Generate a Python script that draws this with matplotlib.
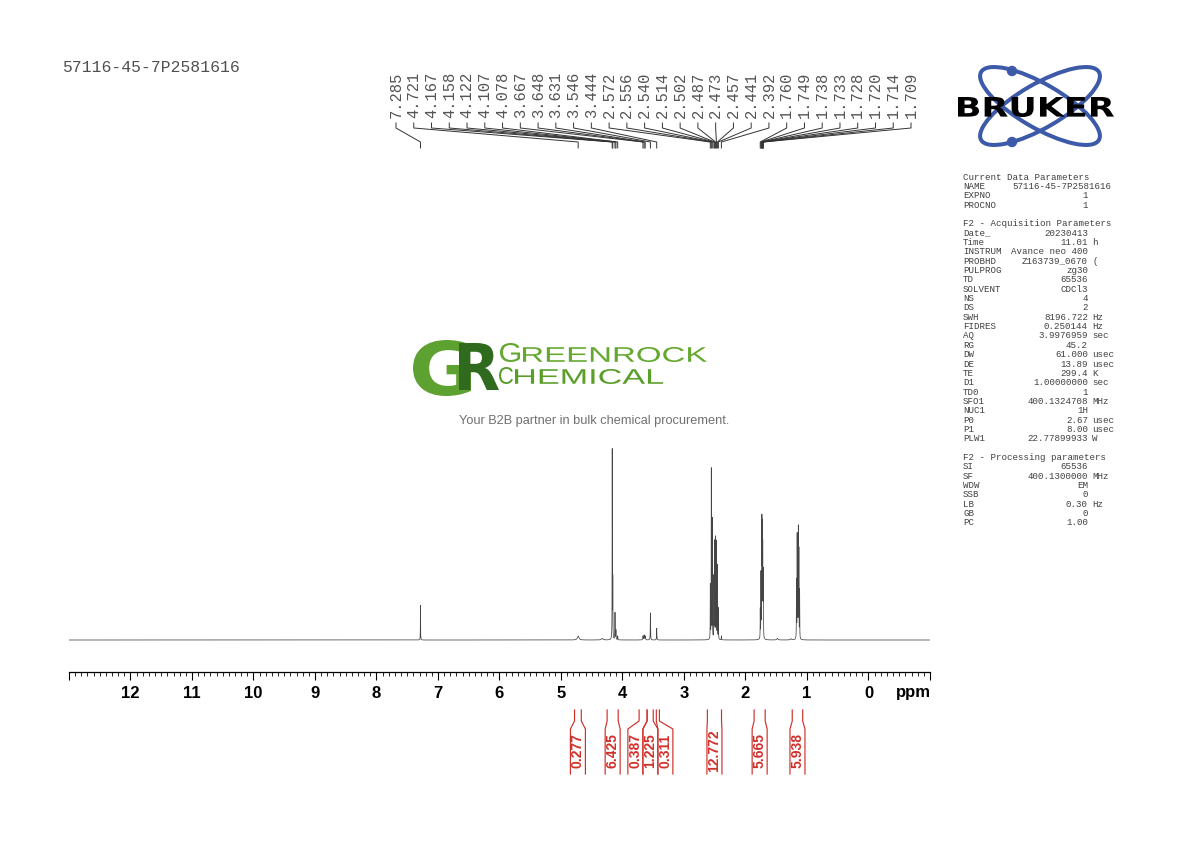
import numpy as np
import matplotlib
matplotlib.use('Agg')
import matplotlib.pyplot as plt
from matplotlib.patches import Ellipse, PathPatch, Circle
from matplotlib.textpath import TextPath
from matplotlib.font_manager import FontProperties
from matplotlib.transforms import Affine2D
from matplotlib.ticker import FixedLocator, MultipleLocator, FuncFormatter

W, H = 1190, 842

# ---------------- data ----------------
title = "57116-45-7P2581616"

peak_ppm = [7.285, 4.721, 4.330, 4.167, 4.158, 4.122, 4.107, 4.078,
            3.667, 3.648, 3.631, 3.546, 3.444,
            2.572, 2.556, 2.540, 2.514, 2.502, 2.487, 2.473, 2.457, 2.441, 2.392,
            1.760, 1.749, 1.738, 1.733, 1.728, 1.720, 1.714, 1.709,
            1.480, 1.260,
            1.171, 1.160, 1.152, 1.141, 1.132, 1.120]
peak_height = [0.18, 0.02, 0.008, 0.98, 0.30, 0.14, 0.05, 0.02,
               0.02, 0.025, 0.02, 0.14, 0.06,
               0.28, 0.88, 0.62, 0.32, 0.50, 0.52, 0.50, 0.38, 0.16, 0.02,
               0.15, 0.33, 0.48, 0.52, 0.52, 0.45, 0.30, 0.20,
               0.008, 0.006,
               0.30, 0.52, 0.45, 0.56, 0.45, 0.25]
peak_hwhm = [0.0018, 0.015, 0.015, 0.0018, 0.0018, 0.0025, 0.0025, 0.0025,
             0.004, 0.004, 0.004, 0.0025, 0.0025,
             0.0018, 0.0018, 0.0018, 0.0018, 0.0018, 0.0018, 0.0018, 0.0018, 0.0018, 0.0018,
             0.0018, 0.0018, 0.0018, 0.0018, 0.0018, 0.0018, 0.0018, 0.0018,
             0.01, 0.01,
             0.0018, 0.0018, 0.0018, 0.0018, 0.0018, 0.0018]

label_values = [7.285, 4.721, 4.167, 4.158, 4.122, 4.107, 4.078, 3.667, 3.648,
                3.631, 3.546, 3.444, 2.572, 2.556, 2.540, 2.514, 2.502, 2.487,
                2.473, 2.457, 2.441, 2.392, 1.760, 1.749, 1.738, 1.733, 1.728,
                1.720, 1.714, 1.709]

int_start = [4.78, 4.25, 3.73, 3.60, 3.45, 2.62, 1.86, 1.24]
int_end = [4.67, 4.07, 3.60, 3.50, 3.40, 2.39, 1.68, 1.07]
int_values = ["0.277", "6.425", "0.387", "1.225", "0.311", "12.772", "5.665", "5.938"]

tick_values = list(range(0, 13))

params = [
    ("Current Data Parameters", None, None),
    ("NAME", "57116-45-7P2581616", "*"),
    ("EXPNO", "1", ""),
    ("PROCNO", "1", ""),
    (None, None, None),
    ("F2 - Acquisition Parameters", None, None),
    ("Date_", "20230413", ""),
    ("Time", "11.01", "h"),
    ("INSTRUM", "Avance neo 400", ""),
    ("PROBHD", "Z163739_0670", "("),
    ("PULPROG", "zg30", ""),
    ("TD", "65536", ""),
    ("SOLVENT", "CDCl3", ""),
    ("NS", "4", ""),
    ("DS", "2", ""),
    ("SWH", "8196.722", "Hz"),
    ("FIDRES", "0.250144", "Hz"),
    ("AQ", "3.9976959", "sec"),
    ("RG", "45.2", ""),
    ("DW", "61.000", "usec"),
    ("DE", "13.89", "usec"),
    ("TE", "299.4", "K"),
    ("D1", "1.00000000", "sec"),
    ("TD0", "1", ""),
    ("SFO1", "400.1324708", "MHz"),
    ("NUC1", "1H", ""),
    ("P0", "2.67", "usec"),
    ("P1", "8.00", "usec"),
    ("PLW1", "22.77899933", "W"),
    (None, None, None),
    ("F2 - Processing parameters", None, None),
    ("SI", "65536", ""),
    ("SF", "400.1300000", "MHz"),
    ("WDW", "EM", ""),
    ("SSB", "0", ""),
    ("LB", "0.30", "Hz"),
    ("GB", "0", ""),
    ("PC", "1.00", ""),
]

# ---------------- figure ----------------
fig = plt.figure(figsize=(W / 100, H / 100), dpi=100)
fig.patch.set_facecolor('white')

# full-figure overlay in pixel coordinates (y down)
axf = fig.add_axes([0, 0, 1, 1])
axf.set_xlim(0, W)
axf.set_ylim(H, 0)
axf.axis('off')

# main spectrum axes
PXL, PXR, AXB, AXT = 69, 930, 672, 440
ax = fig.add_axes([PXL / W, (H - AXB) / H, (PXR - PXL) / W, (AXB - AXT) / H])
ax.patch.set_alpha(0)
ppm = np.linspace(13, -1, 56001)
spec = np.zeros_like(ppm)
for p, h, w in zip(peak_ppm, peak_height, peak_hwhm):
    spec += h / (1.0 + ((ppm - p) / w) ** 2)
ax.plot(ppm, spec, color='#454545', lw=0.55)
ax.set_xlim(13, -1)
ax.set_ylim(-32 / 193, 200 / 193)
for s in ['top', 'left', 'right']:
    ax.spines[s].set_visible(False)
ax.spines['bottom'].set_linewidth(0.9)
ax.yaxis.set_visible(False)
ax.xaxis.set_major_locator(FixedLocator(list(range(-1, 14))))
ax.xaxis.set_minor_locator(MultipleLocator(0.1))
ax.xaxis.set_major_formatter(
    FuncFormatter(lambda v, pos: f"{int(round(v))}" if int(round(v)) in tick_values else ""))
ax.tick_params(axis='x', which='major', length=5.8, width=0.8, direction='out', pad=4.2,
               labelsize=12)
ax.tick_params(axis='x', which='minor', length=2.9, width=0.6, direction='out')
for lab in ax.get_xticklabels():
    lab.set_fontweight('bold')
    lab.set_family('Liberation Sans')
axf.text(896, 693, "ppm", ha='left', va='center', family='Liberation Sans',
         fontweight='bold', fontsize=12, color='black')

# overlay sharing the ppm scale horizontally, pixel y vertically
axo = fig.add_axes([PXL / W, 0, (PXR - PXL) / W, 1])
axo.set_xlim(13, -1)
axo.set_ylim(H, 0)
axo.axis('off')

ppx = (PXR - PXL) / 14.0  # px per ppm
def px2ppm(x):
    return 13 - (x - PXL) / ppx

# peak labels
label_x = np.linspace(px2ppm(396), px2ppm(911), len(label_values))
for xl, v in zip(label_x, label_values):
    axo.plot([xl, xl, v, v], [123, 128, 142, 148], color='#333333', lw=0.7,
             clip_on=False)
    axo.text(xl, 118, f"{v:.3f}", rotation=90, ha='center', va='bottom',
             family='Liberation Mono', fontsize=11.2, color='#555555', clip_on=False)

# integrals
bw = 15.0 / ppx
mids = [(a + b) / 2 for a, b in zip(int_start, int_end)]
clusters = [[i] for i in range(len(mids))]
def centers_of(cl):
    m = np.mean([mids[i] for i in cl])
    n = len(cl)
    return [m + bw * ((n - 1) / 2 - k) for k in range(n)]
changed = True
while changed:
    changed = False
    for j in range(len(clusters) - 1):
        c1 = centers_of(clusters[j])
        c2 = centers_of(clusters[j + 1])
        if c1[-1] - c2[0] < bw:
            clusters[j] = clusters[j] + clusters[j + 1]
            del clusters[j + 1]
            changed = True
            break
lab_c = [0.0] * len(mids)
for cl in clusters:
    for i, c in zip(cl, centers_of(cl)):
        lab_c[i] = c

red = '#d0302a'
for s, e, c, val in zip(int_start, int_end, lab_c, int_values):
    axo.plot([s, s, c + bw / 2, c + bw / 2], [710, 721, 729, 774], color=red, lw=0.85,
             clip_on=False)
    axo.plot([e, e, c - bw / 2, c - bw / 2], [710, 721, 729, 774], color=red, lw=0.85,
             clip_on=False)
    axo.text(c, 751, val, rotation=90, ha='center', va='center', family='Liberation Sans',
             fontsize=10, fontweight='bold', color=red, clip_on=False)

# title
axf.text(62, 68, title, ha='left', va='center', family='Liberation Mono', fontsize=11.8,
         color='#505050')

# parameters block
pc = '#404040'
y = 177
for key, val, unit in params:
    if key is not None:
        axf.text(963, y, key, ha='left', va='center', family='Liberation Mono',
                 fontsize=6.6, color=pc)
        if val is not None:
            if unit == "*":
                axf.text(1111, y, val, ha='right', va='center', family='Liberation Mono',
                         fontsize=6.6, color=pc)
            else:
                axf.text(1088, y, val, ha='right', va='center', family='Liberation Mono',
                         fontsize=6.6, color=pc)
                if unit:
                    axf.text(1092, y, unit, ha='left', va='center',
                             family='Liberation Mono', fontsize=6.6, color=pc)
    y += 9.35

# ---------------- logos ----------------
def fit_text(axp, s, x0, y0, x1, y1, color, family='DejaVu Sans', weight='bold', zorder=3):
    prop = FontProperties(family=family, weight=weight)
    tp = TextPath((0, 0), s, size=100, prop=prop)
    bb = tp.get_extents()
    sx = (x1 - x0) / bb.width
    sy = (y1 - y0) / bb.height
    tr = Affine2D().translate(-bb.x0, -bb.y0).scale(sx, -sy).translate(x0, y1)
    path = tr.transform_path(tp)
    axp.add_patch(PathPatch(path, facecolor=color, edgecolor='none', zorder=zorder))

# Bruker
blue = '#3d5aa8'
for ang in (30, -30):
    axf.add_patch(Ellipse((1040, 106), 136, 44, angle=ang, fill=False, edgecolor=blue,
                          lw=2.9, zorder=2))
axf.add_patch(Circle((1012, 71), 4.5, color=blue, zorder=2))
axf.add_patch(Circle((1012, 142), 4.5, color=blue, zorder=2))
fit_text(axf, "BRUKER", 958, 97, 1114, 117, 'black', zorder=4)

# Greenrock
fit_text(axf, "G", 413, 340, 471, 396, '#5da130', zorder=3)
fit_text(axf, "R", 459, 343, 499, 390, '#2f6a1f', zorder=4)
gfam = 'Liberation Sans'
fit_text(axf, "G", 500, 343, 520, 362, '#64a82f', family=gfam, weight='normal')
fit_text(axf, "REENROCK", 523, 347, 707, 362, '#64a82f', family=gfam, weight='normal')
fit_text(axf, "C", 499, 367, 513, 384, '#5a9e2a', family=gfam, weight='normal')
fit_text(axf, "HEMICAL", 515, 369, 663, 384, '#5a9e2a', family=gfam, weight='normal')
axf.text(594.5, 421, "Your B2B partner in bulk chemical procurement.", ha='center',
         va='center', family='Liberation Sans', fontsize=9.2, color='#707070')

fig.savefig('out.png', dpi=100, facecolor='white')
